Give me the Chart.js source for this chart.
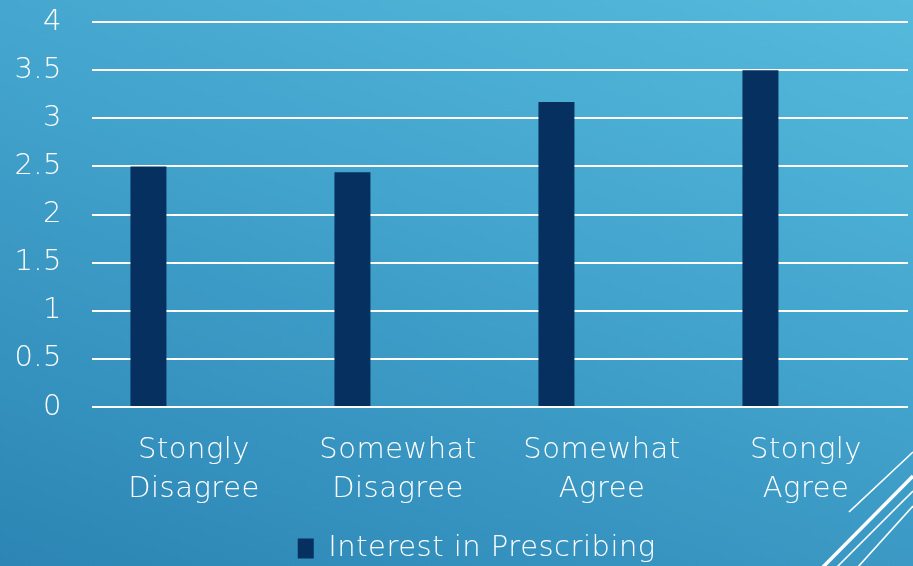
<!DOCTYPE html>
<html>
<head>
<meta charset="utf-8">
<script src="https://cdn.jsdelivr.net/npm/chart.js@4/dist/chart.umd.min.js"></script>
<style>
  html, body { margin: 0; padding: 0; }
  body { width: 913px; height: 566px; overflow: hidden; position: relative;
         background: linear-gradient(200deg, #55badc 0%, #42a3cc 45%, #2c85b4 100%); }
  #wrap { position: absolute; left: 0; top: 0; width: 913px; height: 566px; }
  svg { position: absolute; left: 0; top: 0; pointer-events: none; }
</style>
</head>
<body>
<div id="wrap"><canvas id="c" width="913" height="566"></canvas></div>
<svg width="913" height="566" viewBox="0 0 913 566">
  <line x1="849" y1="512" x2="913" y2="452" stroke="#ffffff" stroke-width="1.6"/>
  <line x1="822" y1="568" x2="913" y2="476" stroke="#ffffff" stroke-width="3.5"/>
  <line x1="836" y1="568" x2="913" y2="491" stroke="#ffffff" stroke-width="1.6"/>
  <line x1="857" y1="568" x2="913" y2="506" stroke="#ffffff" stroke-width="1.6"/>
</svg>
<script>
const categories = [["Stongly", "Disagree"], ["Somewhat", "Disagree"], ["Somewhat", "Agree"], ["Stongly", "Agree"]];
const seriesName = "Interest in Prescribing";
const interestValues = [2.5, 2.44, 3.17, 3.5];
const emptySeries = [null, null, null, null];
const yTicks = [0, 0.5, 1, 1.5, 2, 2.5, 3, 3.5, 4];

const FONT = "'DejaVu Sans', sans-serif";

const spacingPlugin = {
  id: 'spacing',
  beforeDraw(chart) { chart.ctx.letterSpacing = '0.5px'; }
};
const legendShift = {
  id: 'legendShift',
  afterLayout(chart) {
    if (chart.legend) { chart.legend.left += 17; chart.legend.right += 17; }
  }
};

new Chart(document.getElementById('c'), {
  type: 'bar',
  data: {
    labels: categories,
    datasets: [
      { label: seriesName, data: interestValues, backgroundColor: '#06305f', borderWidth: 0,
        barPercentage: 0.79, categoryPercentage: 0.67 },
      { label: '', data: emptySeries, backgroundColor: 'transparent',
        barPercentage: 0.79, categoryPercentage: 0.67 },
      { label: '', data: emptySeries, backgroundColor: 'transparent',
        barPercentage: 0.79, categoryPercentage: 0.67 }
    ]
  },
  plugins: [spacingPlugin, legendShift],
  options: {
    responsive: false,
    animation: false,
    devicePixelRatio: 1,
    layout: { padding: { left: 0, right: 5, top: 22, bottom: -7 } },
    plugins: {
      tooltip: { enabled: false },
      legend: {
        position: 'bottom',
        labels: {
          color: '#ffffff',
          font: { family: FONT, size: 29, weight: 200 },
          boxWidth: 16, boxHeight: 20, padding: 2,
          filter: (item) => item.datasetIndex === 0
        }
      }
    },
    scales: {
      x: {
        grid: { display: false, drawTicks: false },
        border: { display: false },
        ticks: { color: '#ffffff', font: { family: FONT, size: 29, weight: 200, lineHeight: 1.345 }, padding: 24, maxRotation: 0, autoSkip: false },
        afterFit: (axis) => { axis.height = 125; axis.paddingLeft = 0; axis.paddingRight = 0; }
      },
      y: {
        min: 0, max: 4,
        afterBuildTicks: (axis) => { axis.ticks = yTicks.map(v => ({ value: v })); },
        grid: { color: '#ffffff', lineWidth: 2, drawTicks: false },
        border: { display: false },
        ticks: { color: '#ffffff', font: { family: FONT, size: 29, weight: 200 }, padding: 30,
                 callback: (v) => String(v) },
        afterFit: (axis) => { axis.width = 92; axis.paddingTop = 0; axis.paddingBottom = 0; }
      }
    }
  }
});
</script>
</body>
</html>
